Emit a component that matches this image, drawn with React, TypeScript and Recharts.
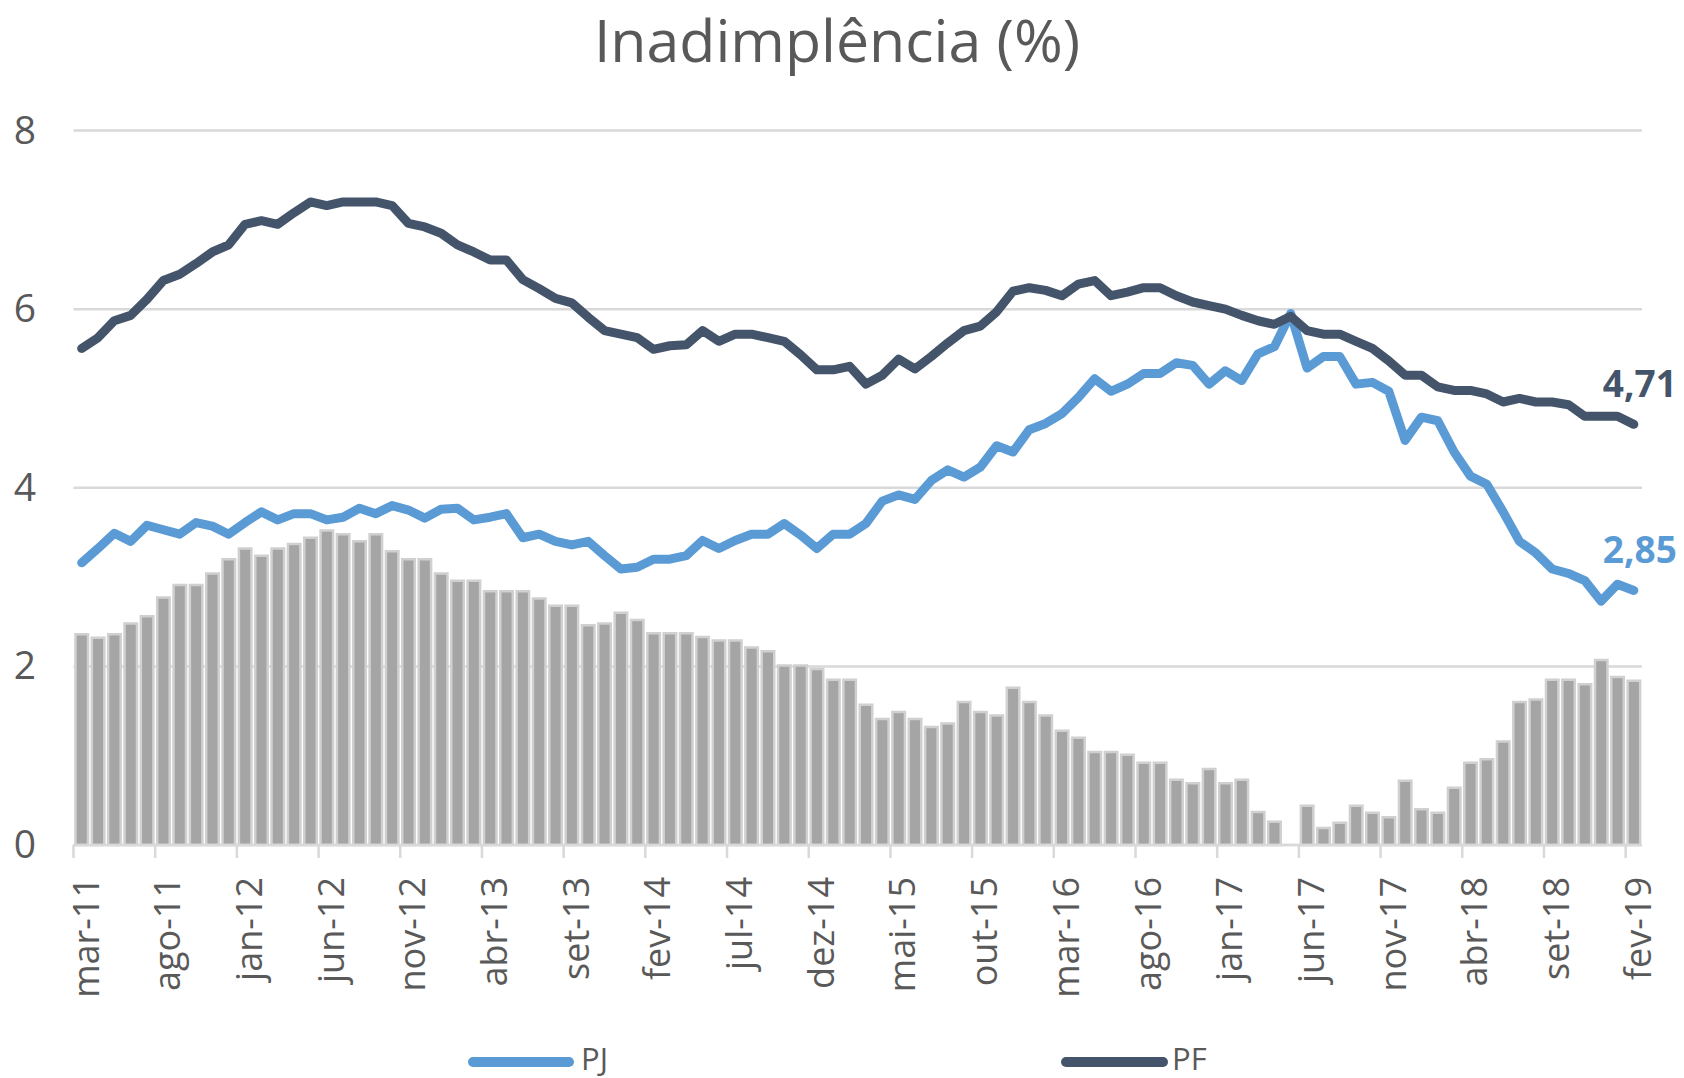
import * as React from 'react';
import { ComposedChart, Bar, Line, XAxis, YAxis, CartesianGrid, Legend } from 'recharts';

const monthNames = ['jan', 'fev', 'mar', 'abr', 'mai', 'jun', 'jul', 'ago', 'set', 'out', 'nov', 'dez'];
const years = ['11', '12', '13', '14', '15', '16', '17', '18', '19'];

// mar-11 .. fev-19
const months: string[] = years
  .flatMap((yy) => monthNames.map((m) => `${m}-${yy}`))
  .slice(2, 2 + 96);

const xTicks = [
  'mar-11', 'ago-11', 'jan-12', 'jun-12', 'nov-12', 'abr-13', 'set-13', 'fev-14', 'jul-14', 'dez-14',
  'mai-15', 'out-15', 'mar-16', 'ago-16', 'jan-17', 'jun-17', 'nov-17', 'abr-18', 'set-18', 'fev-19',
];
const yTicks = [0, 2, 4, 6, 8];

const pj = [
  3.16, 3.32, 3.49, 3.4, 3.58, 3.53, 3.48, 3.61, 3.57, 3.48,
  3.61, 3.73, 3.64, 3.71, 3.71, 3.64, 3.67, 3.77, 3.71, 3.8,
  3.75, 3.66, 3.76, 3.77, 3.64, 3.67, 3.71, 3.44, 3.48, 3.4,
  3.36, 3.4, 3.24, 3.09, 3.11, 3.2, 3.2, 3.24, 3.41, 3.32,
  3.41, 3.48, 3.48, 3.6, 3.47, 3.32, 3.48, 3.48, 3.6, 3.85,
  3.92, 3.87, 4.08, 4.2, 4.12, 4.23, 4.47, 4.4, 4.65, 4.72,
  4.83, 5.01, 5.22, 5.08, 5.16, 5.28, 5.28, 5.4, 5.37, 5.16,
  5.31, 5.2, 5.5, 5.58, 5.95, 5.34, 5.47, 5.47, 5.16, 5.18,
  5.08, 4.53, 4.79, 4.75, 4.4, 4.13, 4.04, 3.73, 3.4, 3.27,
  3.09, 3.04, 2.96, 2.73, 2.92, 2.85,
];

const pf = [
  5.56, 5.68, 5.87, 5.93, 6.11, 6.32, 6.39, 6.51, 6.64, 6.72,
  6.95, 6.99, 6.95, 7.08, 7.2, 7.16, 7.2, 7.2, 7.2, 7.16,
  6.96, 6.92, 6.85, 6.72, 6.64, 6.55, 6.55, 6.33, 6.23, 6.12,
  6.07, 5.91, 5.76, 5.72, 5.68, 5.55, 5.59, 5.6, 5.76, 5.64,
  5.72, 5.72, 5.68, 5.64, 5.49, 5.32, 5.32, 5.36, 5.16, 5.26,
  5.44, 5.33, 5.47, 5.62, 5.76, 5.81, 5.97, 6.2, 6.24, 6.21,
  6.15, 6.28, 6.32, 6.15, 6.19, 6.24, 6.24, 6.15, 6.08, 6.04,
  6.0, 5.93, 5.87, 5.83, 5.92, 5.76, 5.72, 5.72, 5.64, 5.56,
  5.42, 5.26, 5.26, 5.13, 5.09, 5.09, 5.05, 4.96, 5.0, 4.96,
  4.96, 4.93, 4.8, 4.8, 4.8, 4.71,
];

// spread PF - PJ (gray bars)
const spread = [
  2.36, 2.32, 2.36, 2.48, 2.56, 2.77, 2.91, 2.91, 3.04, 3.2,
  3.32, 3.24, 3.32, 3.37, 3.44, 3.52, 3.48, 3.4, 3.48, 3.29,
  3.2, 3.2, 3.04, 2.96, 2.96, 2.84, 2.84, 2.84, 2.76, 2.68,
  2.68, 2.46, 2.48, 2.6, 2.52, 2.37, 2.37, 2.37, 2.33, 2.29,
  2.29, 2.21, 2.17, 2.01, 2.01, 1.97, 1.85, 1.85, 1.57, 1.41,
  1.49, 1.41, 1.32, 1.36, 1.6, 1.49, 1.45, 1.76, 1.6, 1.45,
  1.28, 1.2, 1.04, 1.04, 1.01, 0.92, 0.92, 0.73, 0.69, 0.85,
  0.69, 0.73, 0.37, 0.26, 0, 0.44, 0.19, 0.25, 0.44, 0.36,
  0.31, 0.72, 0.4, 0.36, 0.64, 0.92, 0.96, 1.16, 1.6, 1.63,
  1.85, 1.85, 1.8, 2.07, 1.88, 1.84,
];

const W = 1684;
const H = 1078;
const PLOT_LEFT = 73.5;
const PLOT_RIGHT = 1642;
const PLOT_TOP = 130.5;
const PLOT_BOTTOM = 845;
const BAND = (PLOT_RIGHT - PLOT_LEFT) / months.length;

const FONT = "'Open Sans', sans-serif";
const TEXT = '#595959';
const PJ_COLOR = '#5B9BD5';
const PF_COLOR = '#44546A';
const GRID = '#D9D9D9';

const data = months.map((m, i) => ({ month: m, pj: pj[i], pf: pf[i], spread: spread[i] }));

function XTick(props: any) {
  const { x, payload } = props;
  const tx = x - BAND / 2;
  return (
    <g>
      <line x1={tx} x2={tx} y1={PLOT_BOTTOM} y2={PLOT_BOTTOM + 13} stroke={GRID} strokeWidth={2.5} />
      <text
        transform={`translate(${tx + 25}, 877) rotate(-90)`}
        textAnchor="end"
        fontFamily={FONT}
        fontSize={36}
        fill={TEXT}
      >
        {payload.value}
      </text>
    </g>
  );
}

function YTick(props: any) {
  const { y, payload } = props;
  return (
    <text x={25} y={y + 13} textAnchor="middle" fontFamily={FONT} fontSize={39} fill={TEXT}>
      {payload.value}
    </text>
  );
}

function endLabel(color: string) {
  return (props: any) => {
    const { x, y, index, value } = props;
    if (index !== months.length - 1) return <g />;
    return (
      <text
        x={x + 6}
        y={y - 27}
        textAnchor="middle"
        fontFamily={FONT}
        fontSize={37}
        fontWeight={700}
        fill={color}
      >
        {Number(value).toFixed(2).replace('.', ',')}
      </text>
    );
  };
}

function LegendContent() {
  const items = [
    { name: 'PJ', color: PJ_COLOR, x1: 473, x2: 569, tx: 581 },
    { name: 'PF', color: PF_COLOR, x1: 1066, x2: 1163, tx: 1172 },
  ];
  return (
    <svg width={W} height={48} style={{ overflow: 'visible', display: 'block' }}>
      {items.map((it) => (
        <g key={it.name}>
          <line x1={it.x1} x2={it.x2} y1={32} y2={32} stroke={it.color} strokeWidth={10} strokeLinecap="round" />
          <text x={it.tx} y={40} fontFamily={FONT} fontSize={31} fill={TEXT}>
            {it.name}
          </text>
        </g>
      ))}
    </svg>
  );
}

export default function App() {
  return (
    <div style={{ position: 'absolute', left: 0, top: 0, width: W, height: H, background: '#fff' }}>
      <svg width={W} height={80} style={{ position: 'absolute', left: 0, top: 0 }}>
        <text x={837} y={62} textAnchor="middle" fontFamily={FONT} fontSize={59} fill={TEXT}>
          Inadimplência (%)
        </text>
      </svg>
      <ComposedChart
        width={W}
        height={H}
        data={data}
        margin={{ top: PLOT_TOP, right: W - PLOT_RIGHT, bottom: 0, left: 0 }}
      >
        <CartesianGrid vertical={false} stroke={GRID} strokeWidth={2.5} />
        <XAxis
          dataKey="month"
          ticks={xTicks}
          interval={0}
          tickLine={false}
          axisLine={{ stroke: GRID, strokeWidth: 2.5 }}
          height={H - PLOT_BOTTOM}
          tick={<XTick />}
        />
        <YAxis
          domain={[0, 8]}
          ticks={yTicks}
          width={PLOT_LEFT}
          axisLine={false}
          tickLine={false}
          tick={<YTick />}
        />
        <Legend
          verticalAlign="middle"
          align="center"
          layout="horizontal"
          wrapperStyle={{ position: 'absolute', top: 1030, left: 0, width: W, height: 48 }}
          content={<LegendContent />}
        />
        <Bar
          dataKey="spread"
          name="PF - PJ"
          fill="#A5A5A5"
          stroke="#D0D0D0"
          strokeWidth={2.5}
          barSize={12.5}
          isAnimationActive={false}
          legendType="none"
        />
        <Line
          dataKey="pj"
          name="PJ"
          stroke={PJ_COLOR}
          strokeWidth={9}
          strokeLinecap="round"
          strokeLinejoin="round"
          dot={false}
          activeDot={false}
          isAnimationActive={false}
          label={endLabel(PJ_COLOR)}
        />
        <Line
          dataKey="pf"
          name="PF"
          stroke={PF_COLOR}
          strokeWidth={9}
          strokeLinecap="round"
          strokeLinejoin="round"
          dot={false}
          activeDot={false}
          isAnimationActive={false}
          label={endLabel(PF_COLOR)}
        />
      </ComposedChart>
    </div>
  );
}
